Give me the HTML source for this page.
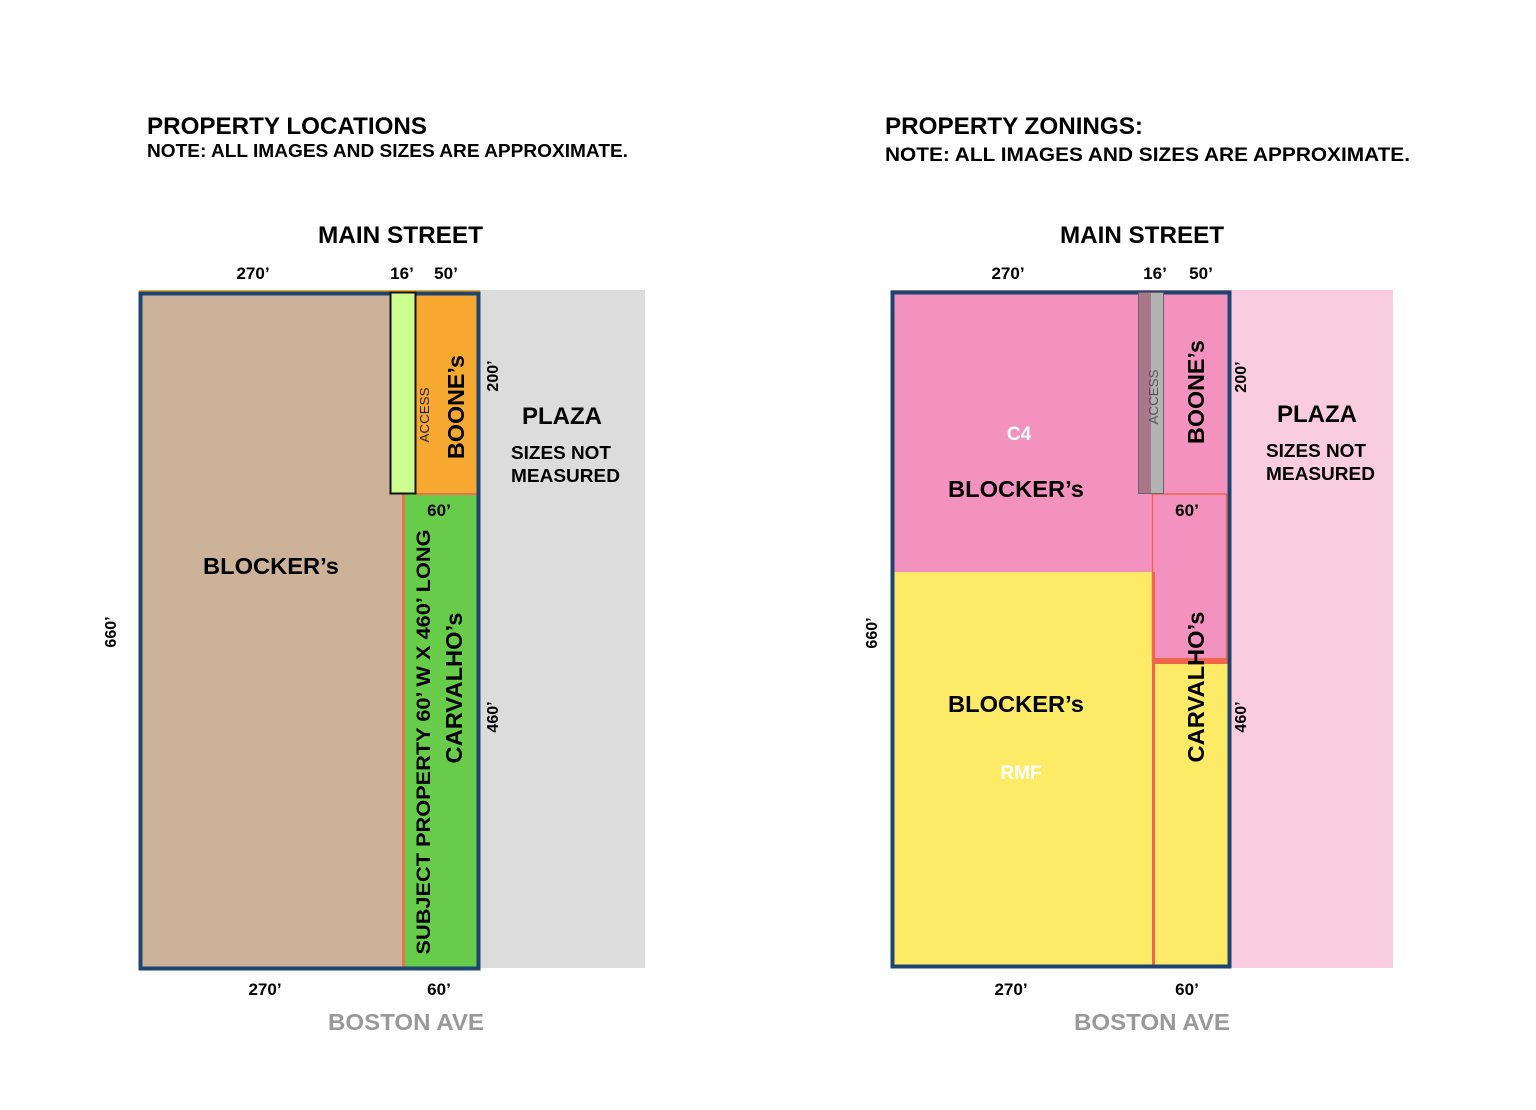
<!DOCTYPE html>
<html><head><meta charset="utf-8"><style>
html,body{margin:0;padding:0;background:#fff;}
svg{display:block;}
text{font-family:"Liberation Sans",Arial,sans-serif;}
.b{font-weight:bold;}
</style></head><body>
<svg width="1536" height="1110" viewBox="0 0 1536 1110" xmlns="http://www.w3.org/2000/svg">
<rect width="1536" height="1110" fill="#fff"/>

<!-- ===== LEFT ===== -->
<text x="147" y="134" class="b" font-size="24" textLength="280" lengthAdjust="spacingAndGlyphs">PROPERTY LOCATIONS</text>
<text x="147" y="157" class="b" font-size="18" textLength="481" lengthAdjust="spacingAndGlyphs">NOTE: ALL IMAGES AND SIZES ARE APPROXIMATE.</text>
<text x="318" y="243" class="b" font-size="24" textLength="165" lengthAdjust="spacingAndGlyphs">MAIN STREET</text>
<text x="253" y="279" class="b" font-size="17" text-anchor="middle">270’</text>
<text x="402" y="279" class="b" font-size="17" text-anchor="middle">16’</text>
<text x="446" y="279" class="b" font-size="17" text-anchor="middle">50’</text>

<rect x="480" y="290" width="165" height="678" fill="#dcdcdc"/>
<rect x="139" y="290" width="341" height="2" fill="#f7a831"/>
<rect x="141" y="294" width="337" height="673" fill="#cbb298"/>
<rect x="416" y="294" width="61" height="200" fill="#f7a831"/>
<rect x="403" y="494" width="74" height="473" fill="#66cc4a"/>
<rect x="402" y="494" width="3" height="473" fill="#ec6f50"/>
<rect x="416" y="493" width="61" height="2" fill="#ec6f50"/>
<rect x="140.5" y="293.5" width="338" height="675" fill="none" stroke="#1d4570" stroke-width="4"/>
<rect x="390.5" y="292.5" width="25" height="201" fill="#ccff90" stroke="#111" stroke-width="2"/>

<text transform="translate(429,415) rotate(-90)" font-size="13" text-anchor="middle" fill="#222" textLength="55" lengthAdjust="spacingAndGlyphs">ACCESS</text>
<text transform="translate(464,407) rotate(-90)" class="b" font-size="23" text-anchor="middle" textLength="104" lengthAdjust="spacingAndGlyphs">BOONE’s</text>
<text transform="translate(498,376) rotate(-90)" class="b" font-size="16" text-anchor="middle">200’</text>
<text x="562" y="424" class="b" font-size="24" text-anchor="middle">PLAZA</text>
<text x="511" y="459" class="b" font-size="18" textLength="100" lengthAdjust="spacingAndGlyphs">SIZES NOT</text>
<text x="511" y="482" class="b" font-size="18" textLength="109" lengthAdjust="spacingAndGlyphs">MEASURED</text>
<text x="203" y="574" class="b" font-size="23" textLength="136" lengthAdjust="spacingAndGlyphs">BLOCKER’s</text>
<text x="439" y="516" class="b" font-size="17" text-anchor="middle">60’</text>
<text transform="translate(430,742) rotate(-90)" class="b" font-size="19" text-anchor="middle" textLength="425" lengthAdjust="spacingAndGlyphs">SUBJECT PROPERTY  60’ W  X  460’ LONG</text>
<text transform="translate(462,688) rotate(-90)" class="b" font-size="23" text-anchor="middle" textLength="151" lengthAdjust="spacingAndGlyphs">CARVALHO’s</text>
<text transform="translate(498,717) rotate(-90)" class="b" font-size="16" text-anchor="middle">460’</text>
<text transform="translate(116,632) rotate(-90)" class="b" font-size="16" text-anchor="middle">660’</text>
<text x="265" y="995" class="b" font-size="17" text-anchor="middle">270’</text>
<text x="439" y="995" class="b" font-size="17" text-anchor="middle">60’</text>
<text x="406" y="1030" class="b" font-size="23" text-anchor="middle" fill="#999" textLength="156" lengthAdjust="spacingAndGlyphs">BOSTON AVE</text>

<!-- ===== RIGHT ===== -->
<text x="885" y="134" class="b" font-size="24" textLength="258" lengthAdjust="spacingAndGlyphs">PROPERTY ZONINGS:</text>
<text x="885" y="161" class="b" font-size="19" textLength="525" lengthAdjust="spacingAndGlyphs">NOTE: ALL IMAGES AND SIZES ARE APPROXIMATE.</text>
<text x="1060" y="243" class="b" font-size="24" textLength="164" lengthAdjust="spacingAndGlyphs">MAIN STREET</text>
<text x="1008" y="279" class="b" font-size="17" text-anchor="middle">270’</text>
<text x="1155" y="279" class="b" font-size="17" text-anchor="middle">16’</text>
<text x="1201" y="279" class="b" font-size="17" text-anchor="middle">50’</text>

<rect x="1231" y="290" width="162" height="678" fill="#f9cce0"/>
<rect x="891" y="290" width="340" height="283" fill="#f492bf"/>
<rect x="893" y="572" width="337" height="395" fill="#fdea66"/>
<rect x="1152" y="494" width="76" height="167" fill="#f492bf"/>
<rect x="1153" y="663" width="75" height="304" fill="#fdea66"/>
<rect x="1152.5" y="494" width="74" height="167" fill="none" stroke="#f0664c" stroke-width="1.5"/>
<rect x="1152" y="658" width="76" height="6" fill="#f0664c"/>
<rect x="1152" y="572" width="3" height="395" fill="#f0664c"/>
<rect x="1153" y="663" width="2" height="304" fill="#f0664c"/>
<rect x="892.5" y="292.5" width="337" height="674" fill="none" stroke="#1d4570" stroke-width="4"/>
<rect x="1138" y="292" width="13" height="202" fill="#aa7689"/>
<rect x="1151" y="292" width="13" height="202" fill="#b3b3b3"/>
<rect x="1138.5" y="292.5" width="25" height="201" fill="none" stroke="#666" stroke-width="1"/>

<text transform="translate(1158,397) rotate(-90)" font-size="13" text-anchor="middle" fill="#555" textLength="55" lengthAdjust="spacingAndGlyphs">ACCESS</text>
<text transform="translate(1204,392) rotate(-90)" class="b" font-size="23" text-anchor="middle" textLength="104" lengthAdjust="spacingAndGlyphs">BOONE’s</text>
<text transform="translate(1246,377) rotate(-90)" class="b" font-size="16" text-anchor="middle">200’</text>
<text x="1317" y="422" class="b" font-size="24" text-anchor="middle">PLAZA</text>
<text x="1266" y="457" class="b" font-size="18" textLength="100" lengthAdjust="spacingAndGlyphs">SIZES NOT</text>
<text x="1266" y="480" class="b" font-size="18" textLength="109" lengthAdjust="spacingAndGlyphs">MEASURED</text>
<text x="1019" y="440" class="b" font-size="19" text-anchor="middle" fill="#fff">C4</text>
<text x="1016" y="497" class="b" font-size="23" text-anchor="middle" textLength="136" lengthAdjust="spacingAndGlyphs">BLOCKER’s</text>
<text x="1016" y="712" class="b" font-size="23" text-anchor="middle" textLength="136" lengthAdjust="spacingAndGlyphs">BLOCKER’s</text>
<text x="1021" y="779" class="b" font-size="19" text-anchor="middle" fill="#fff">RMF</text>
<text x="1187" y="516" class="b" font-size="17" text-anchor="middle">60’</text>
<text transform="translate(1204,687) rotate(-90)" class="b" font-size="23" text-anchor="middle" textLength="151" lengthAdjust="spacingAndGlyphs">CARVALHO’s</text>
<text transform="translate(1246,717) rotate(-90)" class="b" font-size="16" text-anchor="middle">460’</text>
<text transform="translate(877,633) rotate(-90)" class="b" font-size="16" text-anchor="middle">660’</text>
<text x="1011" y="995" class="b" font-size="17" text-anchor="middle">270’</text>
<text x="1187" y="995" class="b" font-size="17" text-anchor="middle">60’</text>
<text x="1152" y="1030" class="b" font-size="23" text-anchor="middle" fill="#999" textLength="156" lengthAdjust="spacingAndGlyphs">BOSTON AVE</text>
</svg>
</body></html>
